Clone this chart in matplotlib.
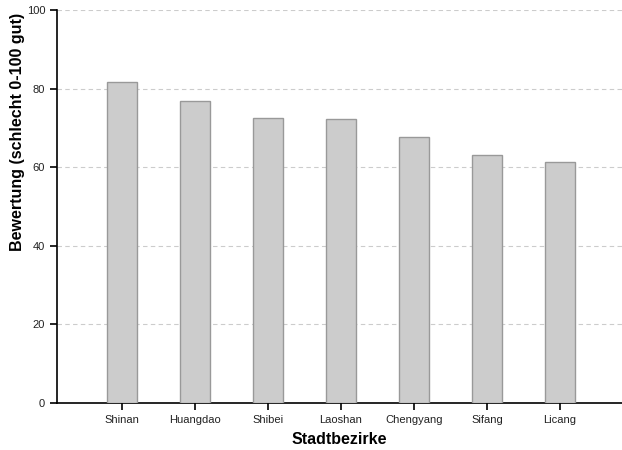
import matplotlib.pyplot as plt
import numpy as np

bezirke = ["Shinan", "Huangdao", "Shibei", "Laoshan", "Chengyang", "Sifang", "Licang"]
bewertung = [81.7, 76.8, 72.5, 72.3, 67.7, 63.1, 61.3]
yticks = [0, 20, 40, 60, 80, 100]

plt.rcParams['font.family'] = ['Liberation Sans', 'DejaVu Sans']

fig = plt.figure(figsize=(6.22, 4.5), dpi=100)
ax = fig.add_axes([57 / 622, 47 / 450, 1 - 57 / 622, 393 / 450])

x = np.arange(len(bezirke))
ax.bar(x, bewertung, width=0.41, color="#cccccc", edgecolor="#999999", linewidth=1, zorder=3)

ax.set_xlim(-0.89, 6.85)
ax.set_ylim(0, 100)
ax.set_yticks(yticks)
ax.set_xticks(x)
ax.set_xticklabels(bezirke)
ax.yaxis.grid(True, linestyle=(0, (4, 3)), color="#cccccc", linewidth=0.8, zorder=0)

for s in ["top", "right"]:
    ax.spines[s].set_visible(False)
ax.spines["left"].set_linewidth(1.2)
ax.spines["bottom"].set_linewidth(1.2)
ax.tick_params(axis="both", direction="out", length=5, width=1.2, labelsize=8, colors="black")
for lbl in ax.get_xticklabels() + ax.get_yticklabels():
    lbl.set_color("#222222")

ax.set_xlabel("Stadtbezirke", fontsize=11.5, fontweight="bold", labelpad=5)
ax.set_ylabel("Bewertung (schlecht 0-100 gut)", fontsize=11.5, fontweight="bold")
ax.yaxis.set_label_coords(-0.056, 0.69)

fig.savefig("out.png", dpi=100)
